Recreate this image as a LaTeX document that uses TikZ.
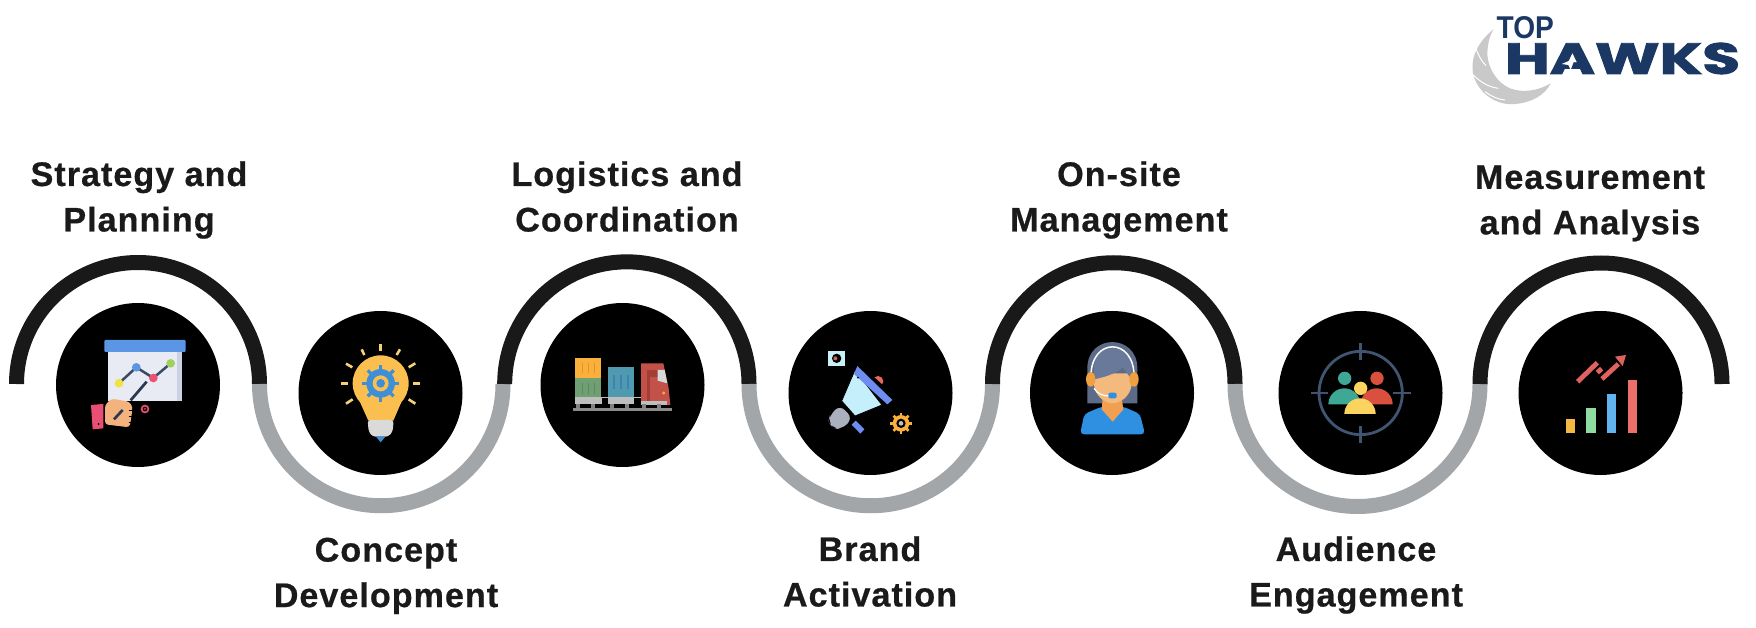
\documentclass[tikz,border=0pt]{standalone}
\usepackage{graphicx}
\usepackage{fontspec}
\setmainfont{Liberation Sans}[LetterSpace=3,BoldFeatures={FakeBold=0.6}]
\newfontfamily\logofont{Poppins}[BoldFeatures={FakeBold=2}]
\newfontfamily\topfont{Liberation Sans}
\definecolor{ink}{HTML}{1A1A1A}
\definecolor{arcdark}{HTML}{191919}
\definecolor{arcgrey}{HTML}{A3A6A8}
\definecolor{logoblue}{HTML}{1B3763}
\definecolor{wing}{HTML}{C9C9C9}
\definecolor{gearblue}{HTML}{3F8FD6}
\definecolor{gearorange}{HTML}{FBB03B}
\newcommand{\gearshape}[5]{%
  \fill[#4] (#1,#2) circle ({0.78*#3});
  \foreach \a in {0,45,...,315} \draw[#4,line width=#5] (#1,#2) -- ++(\a:#3);
}
\newcommand{\lph}{\vphantom{Ag}}
\tikzset{
  disc/.style={circle,fill=black,minimum size=164pt,inner sep=0pt,outer sep=0pt},
  arcdk/.style={draw=arcdark,line width=15pt,line cap=butt},
  arcgr/.style={draw=arcgrey,line width=15pt,line cap=butt},
  lbl/.style={text=ink,align=center,inner sep=0pt,font=\fontsize{34.1}{45.5}\selectfont\bfseries},
  zoomed/.style={shift={(#1)},scale=1/3},
}
\begin{document}
\begin{tikzpicture}[x=1pt,y=-1pt]
\useasboundingbox[fill=white] (0,0) rectangle (1756,628);

% junctions
\coordinate (j0) at (16.5,384);
\coordinate (j1) at (259.5,384);
\coordinate (j2) at (504.7,384);
\coordinate (j3) at (749,384);
\coordinate (j4) at (992.5,384);
\coordinate (j5) at (1235,384);
\coordinate (j6) at (1480,384);

\draw[arcdk] (j0) arc[start angle=180,end angle=360,radius=121.5];
\draw[arcgr] (j1) arc[start angle=180,end angle=0,radius=121.75];
\draw[arcdk] (j2) arc[start angle=180,end angle=360,radius=122.15];
\draw[arcgr] (j3) arc[start angle=180,end angle=0,radius=121.75];
\draw[arcdk] (j4) arc[start angle=180,end angle=360,radius=121.25];
\draw[arcgr] (j5) arc[start angle=180,end angle=0,radius=122.5];
\draw[arcdk] (j6) arc[start angle=180,end angle=360,radius=121];

% discs
\node[disc] (c1) at (138,385) {};
\node[disc] (c2) at (380.5,393) {};
\node[disc] (c3) at (622.5,385) {};
\node[disc] (c4) at (870.5,393) {};
\node[disc] (c5) at (1112,393) {};
\node[disc] (c6) at (1360.5,393) {};
\node[disc] (c7) at (1600.5,393) {};

% labels
\node[lbl] (t1) at (139,200) {\lph Strategy and\\\lph Planning};
\node[lbl] (t2) at (386,576) {\lph Concept\\\lph Development};
\node[lbl] (t3) at (627,200) {\lph Logistics and\\\lph Coordination};
\node[lbl] (t4) at (870,575) {\lph Brand\\\lph Activation};
\node[lbl] (t5) at (1119,200) {\lph On-site\\\lph Management};
\node[lbl] (t6) at (1356,575) {\lph Audience\\\lph Engagement};
\node[lbl] (t7) at (1590,203.5) {\lph Measurement\\\lph and Analysis};

% icon 1 : chart and hand
\begin{scope}[zoomed={40,290}]
  \fill[fill={rgb,255:red,232;green,235;blue,243}] (205,185) rectangle (425,333);
  \fill[fill={rgb,255:red,204;green,210;blue,226}] (412,185) rectangle (425,333);
  \fill[fill={rgb,255:red,91;green,150;blue,230},rounded corners=1pt] (193,150) rectangle (437,186);
  \draw[line width=2.5pt,draw={rgb,255:red,59;green,74;blue,99}] (237,280) -- (289,232) -- (340,264) -- (392,220);
  \fill[fill={rgb,255:red,242;green,226;blue,60}] (237,280) circle (13);
  \fill[fill={rgb,255:red,91;green,150;blue,230}] (289,232) circle (13);
  \fill[fill={rgb,255:red,238;green,79;blue,116}] (340,264) circle (13);
  \fill[fill={rgb,255:red,159;green,210;blue,92}] (392,220) circle (13);
  \fill[fill={rgb,255:red,233;green,79;blue,116}] (153,345) -- (190,342) -- (190,415) -- (158,418) -- cycle;
  \fill[black] (176,402) circle (3);
  \fill[fill={rgb,255:red,244;green,178;blue,126},rounded corners=3pt] (195,345) -- (215,326) -- (268,335) -- (278,352) -- (272,395) -- (268,412) -- (195,403) -- cycle;
  \draw[line width=2.7pt,draw={rgb,255:red,42;green,56;blue,80}] (320,275) -- (272,331);
  \draw[line width=2.7pt,draw={rgb,255:red,42;green,56;blue,80}] (248,360) -- (222,388);
  \foreach \y in {360,378,396} \draw[line width=0.6pt,black] (266,\y) -- (278,\y);
  \fill[fill={rgb,255:red,233;green,79;blue,116}] (315,357) circle (13);
  \fill[black] (315,357) circle (7);
  \fill[fill={rgb,255:red,233;green,79;blue,116}] (315,357) circle (3);
\end{scope}

% icon 2 : light bulb with gear
\begin{scope}[zoomed={40,290}]
  \fill[fill={rgb,255:red,251;green,191;blue,79}] (1022,280) circle (84);
  \fill[fill={rgb,255:red,251;green,191;blue,79}] (955,325) -- (1089,325) -- (1060,392) -- (985,392) -- cycle;
  \fill[fill={rgb,255:red,218;green,218;blue,216},rounded corners=3pt] (983,390) -- (1061,390) -- (1058,425) -- (1045,440) -- (998,440) -- (986,425) -- cycle;
  \fill[fill={rgb,255:red,60;green,142;blue,216}] (1008,440) -- (1036,440) -- (1022,457) -- cycle;
  \gearshape{1022}{280}{55}{gearblue}{3.2pt}
  \fill[fill={rgb,255:red,251;green,191;blue,79}] (1022,280) circle (24);
  \fill[fill={rgb,255:red,60;green,142;blue,216}] (1022,280) circle (13);
  \foreach \p/\q in {{1022,162}/{1022,183},{965,178}/{973,195},{1080,178}/{1070,195},{918,221}/{937,232},{1126,220}/{1106,232},{903,280}/{925,280},{1118,280}/{1140,280},{918,341}/{938,328},{1126,341}/{1106,328}}
    \draw[line width=2.6pt,draw={rgb,255:red,246;green,207;blue,122}] (\p) -- (\q);
\end{scope}

% icon 3 : containers and truck
\begin{scope}[zoomed={530,290}]
  \fill[fill={rgb,255:red,251;green,176;blue,59}] (135,205) rectangle (214,265);
  \fill[fill={rgb,255:red,111;green,159;blue,114}] (135,265) rectangle (214,322);
  \fill[fill={rgb,255:red,79;green,154;blue,176}] (234,230) rectangle (313,322);
  \foreach \x in {157,175,193} {
    \draw[line width=1.5pt,draw={rgb,255:red,220;green,150;blue,50}] (\x,220) -- (\x,248);
    \draw[line width=1.5pt,draw={rgb,255:red,90;green,136;blue,96}] (\x,280) -- (\x,312);
  }
  \foreach \x in {253,273,293}
    \draw[line width=1.8pt,draw={rgb,255:red,62;green,130;blue,176}] (\x,255) -- (\x,298);
  \fill[fill={rgb,255:red,194;green,81;blue,74}] (333,220) -- (400,220) -- (416,295) -- (421,345) -- (333,345) -- cycle;
  \fill[fill={rgb,255:red,163;green,61;blue,56}] (352,240) rectangle (383,262);
  \fill[fill={rgb,255:red,163;green,61;blue,56}] (352,262) rectangle (360,340);
  \fill[fill={rgb,255:red,216;green,216;blue,216}] (383,240) -- (404,240) -- (412,280) -- (383,272) -- cycle;
  \fill[fill={rgb,255:red,240;green,180;blue,70}] (401,309) circle (5);
  \fill[fill={rgb,255:red,190;green,190;blue,190}] (135,322) rectangle (215,343);
  \fill[fill={rgb,255:red,190;green,190;blue,190}] (215,320) rectangle (234,325);
  \fill[fill={rgb,255:red,190;green,190;blue,190}] (234,322) rectangle (313,343);
  \fill[fill={rgb,255:red,190;green,190;blue,190}] (313,320) rectangle (333,325);
  \fill[fill={rgb,255:red,190;green,190;blue,190}] (333,332) rectangle (410,345);
  \foreach \x in {145,190,245,290,343,388}
    \fill[fill={rgb,255:red,130;green,130;blue,130}] (\x-6,343) rectangle (\x+6,353);
  \fill[fill={rgb,255:red,139;green,139;blue,139}] (130,353) rectangle (425,362);
\end{scope}

% icon 4 : megaphone
\begin{scope}[zoomed={530,290}]
  \fill[fill={rgb,255:red,200;green,240;blue,247}] (895,183) rectangle (945,228);
  \fill[black] (920,205) circle (14);
  \fill[fill={rgb,255:red,205;green,100;blue,90}] (916,205) circle (6);
  \fill[fill={rgb,255:red,232;green,103;blue,92}] (1044,274) circle (16);
  \fill[black] (1020,250) -- (1075,300) -- (1050,325) -- (990,275) -- cycle;
  \fill[fill={rgb,255:red,170;green,176;blue,189},rounded corners=7pt] (930,345) -- (968,385) -- (935,418) -- (910,415) -- (895,395) -- (900,375) -- cycle;
  \fill[fill={rgb,255:red,197;green,239;blue,250},draw=black,line width=0.8pt] (975,240) -- (1056,345) -- (975,378) -- (935,333) -- cycle;
  \fill[fill={rgb,255:red,109;green,141;blue,240}] (982,228) -- (1087,330) -- (1072,343) -- (972,252) -- cycle;
  \fill[black] (984,263) circle (3);
  \fill[fill={rgb,255:red,109;green,141;blue,240}] (977,392) -- (1003,418) -- (991,431) -- (965,404) -- cycle;
  \gearshape{1113}{400}{32}{gearorange}{2.6pt}
  \fill[black] (1113,400) circle (14);
  \fill[fill={rgb,255:red,190;green,190;blue,190}] (1113,400) circle (7);
\end{scope}

% icon 5 : headset agent
\begin{scope}[zoomed={1020,290}]
  \fill[fill={rgb,255:red,92;green,108;blue,136}] (202,340) -- (202,235) .. controls (202,130) and (352,130) .. (352,235) -- (352,340) -- cycle;
  \fill[fill={rgb,255:red,47;green,143;blue,224},rounded corners=4pt] (180,433) -- (193,372) -- (245,350) -- (310,350) -- (360,372) -- (375,433) -- cycle;
  \fill[fill={rgb,255:red,240;green,160;blue,80}] (248,325) -- (305,325) -- (310,358) -- (278,395) -- (245,358) -- cycle;
  \fill[fill={rgb,255:red,244;green,185;blue,124}] (222,250) -- (335,250) -- (335,285) .. controls (330,320) and (300,340) .. (278,340) .. controls (256,340) and (226,320) .. (222,285) -- cycle;
  \fill[fill={rgb,255:red,105;green,121;blue,154}] (222,268) -- (222,225) .. controls (225,155) and (332,155) .. (335,225) -- (335,268) -- (308,232) .. controls (295,245) and (270,258) .. (222,268) -- cycle;
  \draw[line width=1.5pt,white] (213,262) .. controls (210,140) and (345,140) .. (342,262);
  \fill[fill={rgb,255:red,240;green,160;blue,64}] (212,268) ellipse (14 and 22);
  \fill[fill={rgb,255:red,240;green,160;blue,64}] (342,268) ellipse (14 and 22);
  \draw[line width=1.2pt,white] (222,295) .. controls (232,312) and (250,318) .. (268,318);
  \fill[fill={rgb,255:red,47;green,143;blue,224},rounded corners=2pt] (265,308) rectangle (290,325);
\end{scope}

% icon 6 : audience target
\begin{scope}[zoomed={1020,290}]
  \draw[line width=2.8pt,draw={rgb,255:red,63;green,85;blue,112}] (1022,309) circle (125);
  \foreach \p/\q in {{1022,158}/{1022,210},{1022,408}/{1022,460},{872,309}/{925,309},{1120,309}/{1172,309}}
    \draw[line width=2.8pt,draw={rgb,255:red,63;green,85;blue,112}] (\p) -- (\q);
  \fill[fill={rgb,255:red,63;green,167;blue,150}] (974,265) circle (20);
  \fill[fill={rgb,255:red,63;green,167;blue,150}] (925,343) arc[start angle=180,end angle=360,radius=48] -- cycle;
  \fill[fill={rgb,255:red,217;green,80;blue,63}] (1071,265) circle (20);
  \fill[fill={rgb,255:red,217;green,80;blue,63}] (1022,343) arc[start angle=180,end angle=360,radius=48] -- cycle;
  \fill[fill={rgb,255:red,251;green,212;blue,96}] (1022,295) circle (20);
  \fill[fill={rgb,255:red,251;green,212;blue,96}] (973,372) arc[start angle=180,end angle=360,radius=47] -- cycle;
\end{scope}

% icon 7 : growth bars
\begin{scope}[zoomed={1500,300}]
  \fill[fill={rgb,255:red,245;green,185;blue,66}] (197,356) rectangle (225,400);
  \fill[fill={rgb,255:red,143;green,220;blue,160}] (259,325) rectangle (287,400);
  \fill[fill={rgb,255:red,98;green,180;blue,238}] (321,281) rectangle (349,400);
  \fill[fill={rgb,255:red,236;green,111;blue,106}] (383,241) rectangle (411,400);
  \draw[line width=4.8pt,draw={rgb,255:red,224;green,97;blue,95}] (233,245) -- (292,188);
  \draw[line width=4.8pt,draw={rgb,255:red,224;green,97;blue,95}] (292,218) -- (305,206);
  \draw[line width=4.8pt,draw={rgb,255:red,224;green,97;blue,95}] (306,237) -- (355,192);
  \fill[fill={rgb,255:red,224;green,97;blue,95}] (345,170) -- (378,165) -- (368,198) -- cycle;
\end{scope}

% logo
\begin{scope}[zoomed={1460,0}]
  \fill[wing] (100,88) .. controls (50,130) and (30,175) .. (40,225) .. controls (55,280) and (110,318) .. (165,312) .. controls (215,308) and (255,285) .. (272,250) .. controls (235,272) and (190,280) .. (150,265) .. controls (110,248) and (85,205) .. (82,165) .. controls (82,135) and (88,110) .. (100,88) -- cycle;
  \draw[white,line width=1pt] (45,140) .. controls (55,165) and (65,185) .. (78,197);
  \draw[white,line width=1pt] (40,225) .. controls (65,250) and (90,262) .. (115,265);
  \draw[white,line width=1pt] (75,275) .. controls (95,290) and (115,298) .. (135,300);
\end{scope}
\node[inner sep=0pt,text=logoblue] (top) at (1525.3,27.5) {\resizebox{57.3pt}{22pt}{\topfont\bfseries TOP}};
\node[inner sep=0pt,text=logoblue] (hawks) at (1622.5,58.5) {\resizebox{235pt}{31pt}{\logofont\bfseries HAWKS}};
\begin{scope}[zoomed={1460,0}]
  \fill[white] (305,192) -- (345,175) -- (332,210) -- (325,195) -- cycle;
\end{scope}
\end{tikzpicture}
\end{document}
